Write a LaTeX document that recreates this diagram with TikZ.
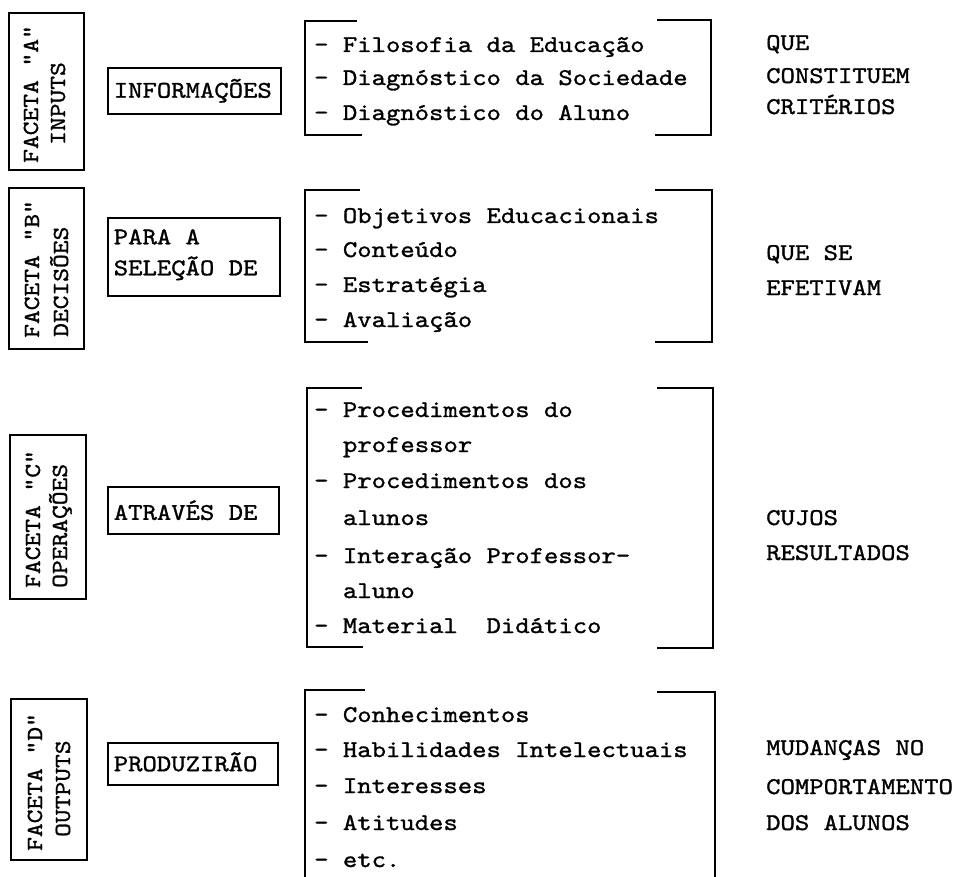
\documentclass[tikz,border=0pt]{standalone}
\usepackage{fontspec}
\newfontfamily\tw[FakeStretch=1.14,FakeBold=1.2]{lmmono10-regular.otf}
\begin{document}
\begin{tikzpicture}[x=1pt,y=-1pt,
  txt/.style={anchor=base west, inner sep=0pt, font=\tw\fontsize{24}{24}\selectfont},
  ftxt/.style={anchor=base west, inner sep=0pt, rotate=90, font=\tw\fontsize{23}{23}\selectfont},
  facetbox/.style={draw, line width=1.6pt, anchor=north west, inner sep=0pt},
  midbox/.style={draw, line width=1.6pt, anchor=north west, inner xsep=6pt, inner ysep=0pt, align=flush left,
    font=\tw\fontsize{24}{31}\selectfont},
  brk/.style={line width=2pt, line join=miter}]
\useasboundingbox (0,0) rectangle (961,877);

% facet boxes
\node[facetbox, minimum width=75pt, minimum height=157pt] (fA) at (8,12) {};
\node[facetbox, minimum width=75pt, minimum height=161pt] (fB) at (8,187) {};
\node[facetbox, minimum width=76pt, minimum height=164pt] (fC) at (9,434) {};
\node[facetbox, minimum width=76pt, minimum height=161pt] (fD) at (10,698) {};
\node[ftxt] (fA1) at (38,163) {FACETA "A"};
\node[ftxt] (fA2) at (65,145) {INPUTS};
\node[ftxt] (fB1) at (39,338) {FACETA "B"};
\node[ftxt] (fB2) at (68,337) {DECISÕES};
\node[ftxt] (fC1) at (40,588) {FACETA "C"};
\node[ftxt] (fC2) at (67,588) {OPERAÇÕES};
\node[ftxt] (fD1) at (42,851) {FACETA "D"};
\node[ftxt] (fD2) at (70,837) {OUTPUTS};

% middle boxes
\node[midbox, text width=161pt, minimum height=46pt] (mA) at (107,67) {INFORMAÇÕES};
\node[midbox, text width=160pt, minimum height=78pt] (mB) at (107,217) {PARA A\\SELEÇÃO DE\rule[-9pt]{0pt}{9pt}};
\node[midbox, text width=159pt, minimum height=47pt] (mC) at (107,486) {ATRAVÉS DE};
\node[midbox, text width=158pt, minimum height=42pt] (mD) at (107,742) {PRODUZIRÃO\rule[-4pt]{0pt}{4pt}};

% brackets
\draw[brk] (357,21) -- (305,21) -- (305,135) -- (362,135);
\draw[brk] (657,20) -- (711,20) -- (711,135) -- (655,135);
\draw[brk] (360,190) -- (305,190) -- (305,342) -- (368,342);
\draw[brk] (655,190) -- (712,190) -- (712,342) -- (655,342);
\draw[brk] (362,388) -- (307,388) -- (307,647) -- (363,647);
\draw[brk] (657,388) -- (713,388) -- (713,648) -- (657,648);
\draw[brk] (365,690) -- (305,690) -- (305,878);
\draw[brk] (657,692) -- (715,692) -- (715,878);

% list A
\node[txt] (a1) at (314,52) {- Filosofia da Educação};
\node[txt] (a2) at (314,85) {- Diagnóstico da Sociedade};
\node[txt] (a3) at (314,120) {- Diagnóstico do Aluno};
\node[txt] (ra1) at (766,50) {QUE};
\node[txt] (ra2) at (766,83) {CONSTITUEM};
\node[txt] (ra3) at (766,114) {CRITÉRIOS};

% list B
\node[txt] (b1) at (314,223) {- Objetivos Educacionais};
\node[txt] (b2) at (314,257) {- Conteúdo};
\node[txt] (b3) at (314,292) {- Estratégia};
\node[txt] (b4) at (314,327) {- Avaliação};
\node[txt] (rb1) at (766,260) {QUE SE};
\node[txt] (rb2) at (766,295) {EFETIVAM};

% list C
\node[txt] (c1) at (314,417) {- Procedimentos do};
\node[txt] (c2) at (342.8,452) {professor};
\node[txt] (c3) at (314,488) {- Procedimentos dos};
\node[txt] (c4) at (342.8,525) {alunos};
\node[txt] (c5) at (314,563) {- Interação Professor-};
\node[txt] (c6) at (342.8,598) {aluno};
\node[txt] (c7) at (314,633) {- Material\ \ Didático};
\node[txt] (rc1) at (766,525) {CUJOS};
\node[txt] (rc2) at (766,560) {RESULTADOS};

% list D
\node[txt] (d1) at (314,722) {- Conhecimentos};
\node[txt] (d2) at (314,757) {- Habilidades Intelectuais};
\node[txt] (d3) at (314,793) {- Interesses};
\node[txt] (d4) at (314,830) {- Atitudes};
\node[txt] (d5) at (314,867) {- etc.};
\node[txt] (rd1) at (766,755) {MUDANÇAS NO};
\node[txt] (rd2) at (766,794) {COMPORTAMENTO};
\node[txt] (rd3) at (766,830) {DOS ALUNOS};
\end{tikzpicture}
\end{document}
